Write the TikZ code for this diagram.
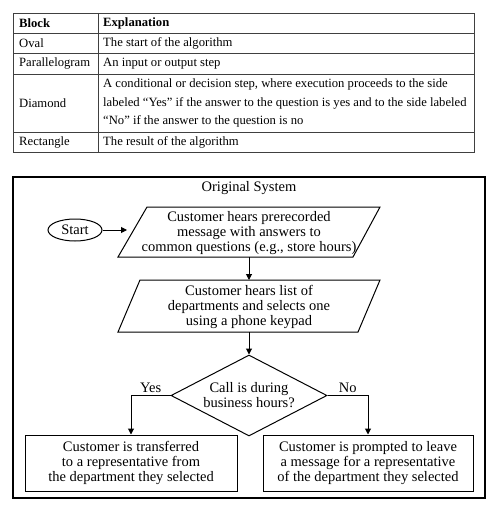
\documentclass[tikz,border=0pt]{standalone}
\usepackage{fontspec}
\setmainfont{Liberation Serif}
\usetikzlibrary{shapes.geometric,arrows.meta}
\begin{document}
\begin{tikzpicture}[x=1pt,y=-1pt,
  tline/.style={draw=black!75, line width=0.9pt},
  ttext/.style={font=\fontsize{12.65}{18.5}\selectfont, anchor=west, inner sep=0pt, align=left},
  fc/.style={font=\fontsize{14.5}{15}\selectfont, align=center, inner sep=0pt},
  shp/.style={draw, line width=1pt},
  box/.style={shp, fc, minimum width=212pt, minimum height=56pt},
  arr/.style={draw, line width=1pt, -{Triangle[length=6pt,width=6pt]}},
  lbl/.style={fc, above=2pt},
]
\useasboundingbox (0,0) rectangle (498,513);
% ---------- table ----------
\draw[tline] (13,13) rectangle (474,152);
\foreach \y in {33,53,74,132} \draw[tline] (13,\y) -- (474,\y);
\draw[tline] (98,13) -- (98,152);
\node[ttext] (h1) at (19,23) {\bfseries Block};
\node[ttext] (h2) at (103,23) {\bfseries Explanation};
\node[ttext] (r1a) at (19,43) {Oval};
\node[ttext] (r1b) at (103,43) {The start of the algorithm};
\node[ttext] (r2a) at (19,63.5) {Parallelogram};
\node[ttext] (r2b) at (103,63.5) {An input or output step};
\node[ttext] (r3a) at (19,103) {Diamond};
\node[ttext] (r3b) at (103,103) {A conditional or decision step, where execution proceeds to the side\\labeled “Yes” if the answer to the question is yes and to the side labeled\\“No” if the answer to the question is no};
\node[ttext] (r4a) at (19,142) {Rectangle};
\node[ttext] (r4b) at (103,142) {The result of the algorithm};
% ---------- flowchart ----------
\draw[line width=1.2pt] (13,177) rectangle (485,498);
\node[fc] (title) at (249,188) {Original System};
\node[shp, fc, ellipse, minimum width=54pt, minimum height=22pt] (start) at (75,230) {Start};
\draw[shp] (147,207) -- (380,207) -- (353,257) -- (118,257) -- cycle;
\node[fc] (p1) at (249,233) {Customer hears prerecorded\\message with answers to\\common questions (e.g., store hours)};
\coordinate (p1left) at (127,230);
\coordinate (p1bot) at (249,257);
\draw[shp] (140,280) -- (380,280) -- (358,332) -- (118,332) -- cycle;
\node[fc] (p2) at (249,307) {Customer hears list of\\departments and selects one\\using a phone keypad};
\coordinate (p2top) at (249,280);
\coordinate (p2bot) at (249,332);
\node[shp, fc, diamond, aspect=1.93, minimum width=156pt, minimum height=81pt] (dec) at (249,395.5) {Call is during\\business hours?};
\node[box] (yes) at (131,463) {Customer is transferred\\to a representative from\\the department they selected};
\node[box, minimum width=210pt] (no) at (368,463) {Customer is prompted to leave\\a message for a representative\\of the department they selected};
\draw[arr] (start.east) -- (p1left);
\draw[arr] (p1bot) -- (p2top);
\draw[arr] (p2bot) -- (dec.north);
\draw[arr] (dec.west) -| node[lbl, pos=0.25] (ylab) {Yes} (yes.north);
\draw[arr] (dec.east) -| node[lbl, pos=0.25] (nlab) {No} (no.north);
\end{tikzpicture}
\end{document}
